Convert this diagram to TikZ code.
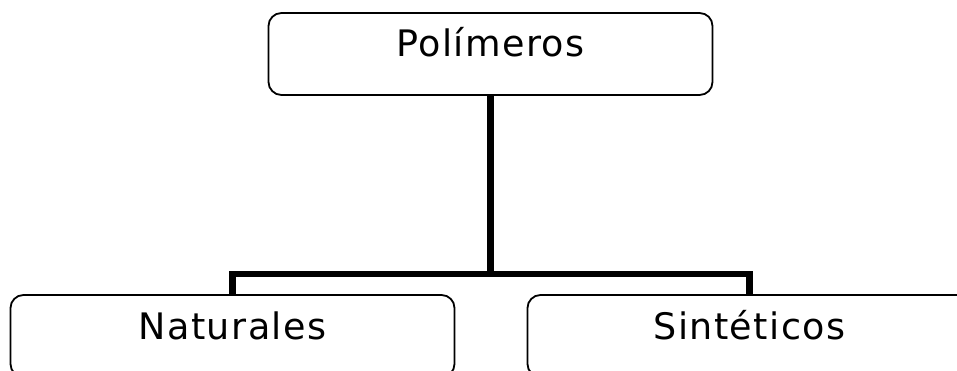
\documentclass[tikz,border=0pt]{standalone}
\usepackage{fontspec}
\setmainfont{DejaVu Sans}[LetterSpace=4]
\begin{document}
\begin{tikzpicture}[x=1pt,y=-1pt,
  box/.style={draw=black, line width=1.8pt, rounded corners=13pt,
    minimum width=444pt, inner sep=0pt,
    text height=44pt, text depth=38pt,
    font=\fontsize{36.5pt}{42pt}\selectfont},
  conn/.style={draw=black, line width=6.2pt}]
  \useasboundingbox (0,0) rectangle (957,371);
  \begin{scope}
    \clip (0,0) rectangle (957,371);
    \node[box] (top) at (490.5,54) {Polímeros};
    \node[box] (nat) at (232.5,336) {Naturales};
    \node[box] (sin) at (749.5,336) {Sintéticos};
    \coordinate (fork) at (490.5,274);
    \draw[conn] (top.south) -- (fork);
    \draw[conn] (fork) -| (nat.north);
    \draw[conn] (fork) -| (sin.north);
  \end{scope}
\end{tikzpicture}
\end{document}
